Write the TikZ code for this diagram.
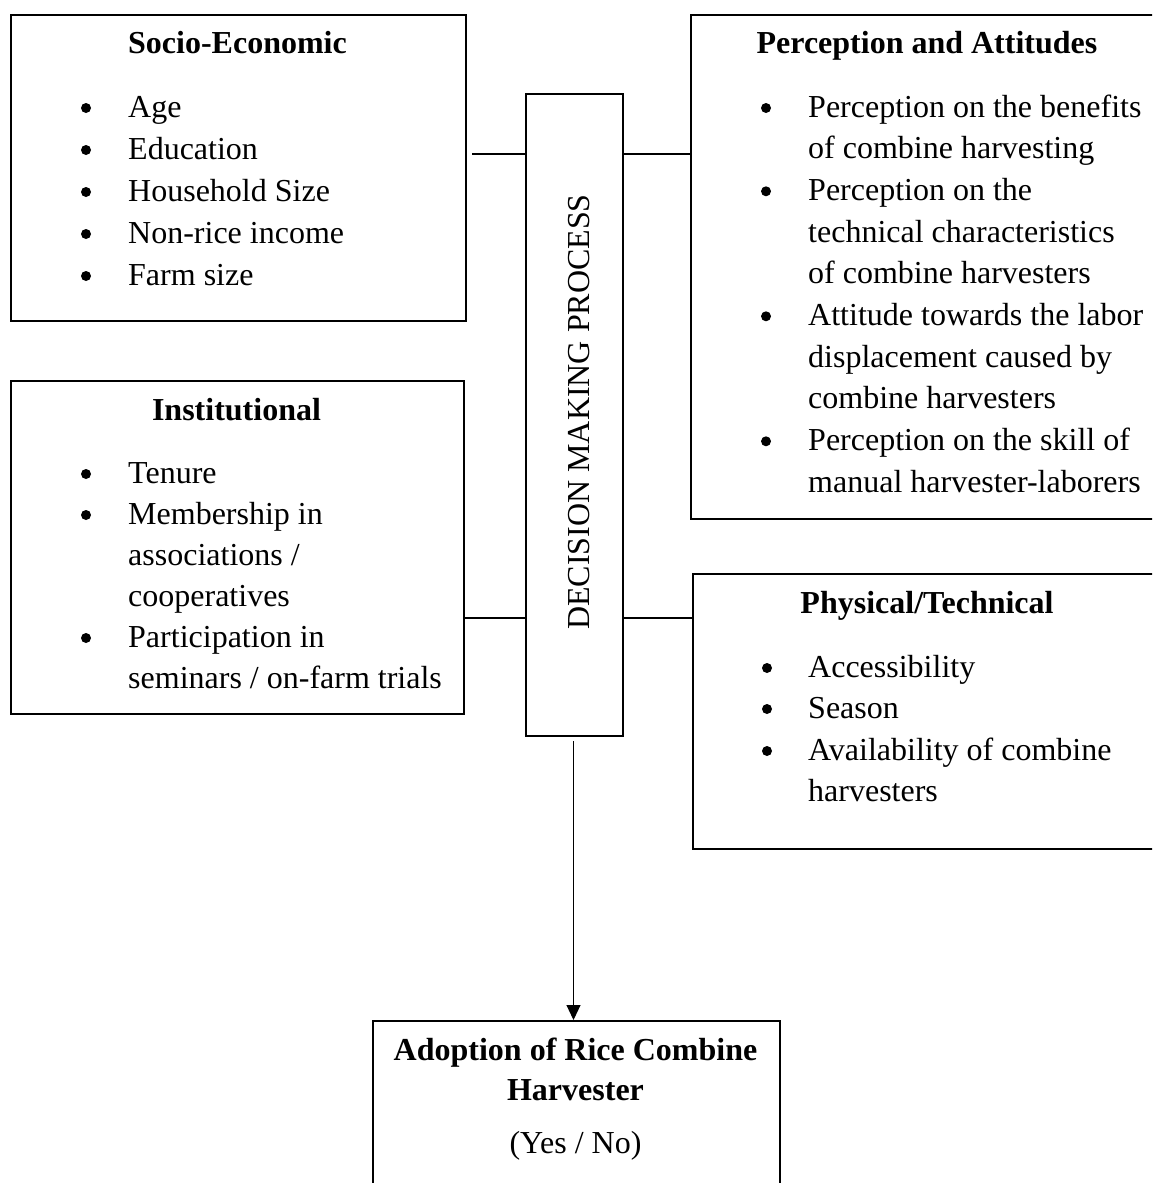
\documentclass[tikz,border=0pt]{standalone}
\usepackage{fontspec}
\setmainfont{Liberation Serif}
\usetikzlibrary{arrows.meta}
\tikzset{
  boxnode/.style={draw, line width=1.6pt, rectangle, inner sep=0pt, anchor=north west},
  ttl/.style={font=\fontsize{32}{40}\selectfont\bfseries, anchor=base, inner sep=0pt},
  itm/.style={font=\fontsize{32}{40}\selectfont, anchor=base west, inner sep=0pt},
  txt/.style={font=\fontsize{32}{40}\selectfont, anchor=base, inner sep=0pt},
  bul/.style={circle, fill=black, inner sep=0pt, minimum size=10pt},
  conn/.style={line width=1.3pt},
  arr/.style={line width=1.1pt, -{Triangle[length=15pt,width=14pt]}}
}
\begin{document}
\begin{tikzpicture}[x=1pt,y=-1pt]
\useasboundingbox (0,0) rectangle (1152,1183);
\clip (0,0) rectangle (1152,1183);
% boxes
\node[boxnode, minimum width=455pt, minimum height=306pt] (se) at (10,14) {};
\node[boxnode, minimum width=453pt, minimum height=333pt] (inst) at (10,380) {};
\node[boxnode, minimum width=97pt, minimum height=642pt] (dm) at (525,93) {};
\node[boxnode, minimum width=475pt, minimum height=504pt] (pa) at (690,14) {};
\node[boxnode, minimum width=473pt, minimum height=275pt] (pt) at (692,573) {};
\node[boxnode, minimum width=407pt, minimum height=220pt] (ad) at (372,1020) {};
% decision text
\node[txt, rotate=90] (dmt) at (589,412) {DECISION MAKING PROCESS};
% Socio-Economic
\node[ttl] (set) at (237.5,53) {Socio-Economic};
\foreach \i/\t/\y in {1/Age/117, 2/Education/159, 3/Household Size/201, 4/Non-rice income/243, 5/Farm size/285}{
  \node[bul] (seb\i) at (86,\y-9) {};
  \node[itm] (sei\i) at (128,\y) {\t};
}
% Institutional
\node[ttl] (instt) at (236.5,420) {Institutional};
\foreach \i/\y in {1/483, 2/524, 3/647}{
  \node[bul] (instb\i) at (86,\y-9) {};
}
\foreach \i/\t/\y in {1/Tenure/483, 2/Membership in/524, 3/associations \slash/565, 4/cooperatives/606, 5/Participation in/647, 6/seminars \slash{} on-farm trials/688}{
  \node[itm] (insti\i) at (128,\y) {\t};
}
% Perception and Attitudes
\node[ttl] (pat) at (927,53) {Perception and Attitudes};
\foreach \i/\y in {1/117, 2/200.3, 3/325.3, 4/450.3}{
  \node[bul] (pab\i) at (766,\y-9) {};
}
\foreach \i/\t/\y in {1/Perception on the benefits/117, 2/of combine harvesting/158.7, 3/Perception on the/200.3, 4/technical characteristics/242, 5/of combine harvesters/283.7, 6/Attitude towards the labor/325.3, 7/displacement caused by/367, 8/combine harvesters/408.7, 9/Perception on the skill of/450.3, 10/manual harvester-laborers/492}{
  \node[itm] (pai\i) at (808,\y) {\t};
}
% Physical/Technical
\node[ttl] (ptt) at (927,613) {Physical/Technical};
\foreach \i/\y in {1/677, 2/718, 3/760}{
  \node[bul] (ptb\i) at (767,\y-9) {};
}
\foreach \i/\t/\y in {1/Accessibility/677, 2/Season/718, 3/Availability of combine/760, 4/harvesters/801}{
  \node[itm] (pti\i) at (808,\y) {\t};
}
% Adoption
\node[ttl] (adt1) at (575.5,1060) {Adoption of Rice Combine};
\node[ttl] (adt2) at (575.5,1100) {Harvester};
\node[txt] (adt3) at (575.5,1153) {(Yes / No)};
% connectors
\coordinate (c1) at (472,154);
\draw[conn] (c1) -- (dm.west |- c1);
\draw[conn] (dm.east |- c1) -- (pa.west |- c1);
\coordinate (c2) at (0,618);
\draw[conn] (inst.east |- c2) -- (dm.west |- c2);
\draw[conn] (dm.east |- c2) -- (pt.west |- c2);
\coordinate (a0) at (573.5,741);
\draw[arr] (a0) -- (a0 |- ad.north);
\end{tikzpicture}
\end{document}
